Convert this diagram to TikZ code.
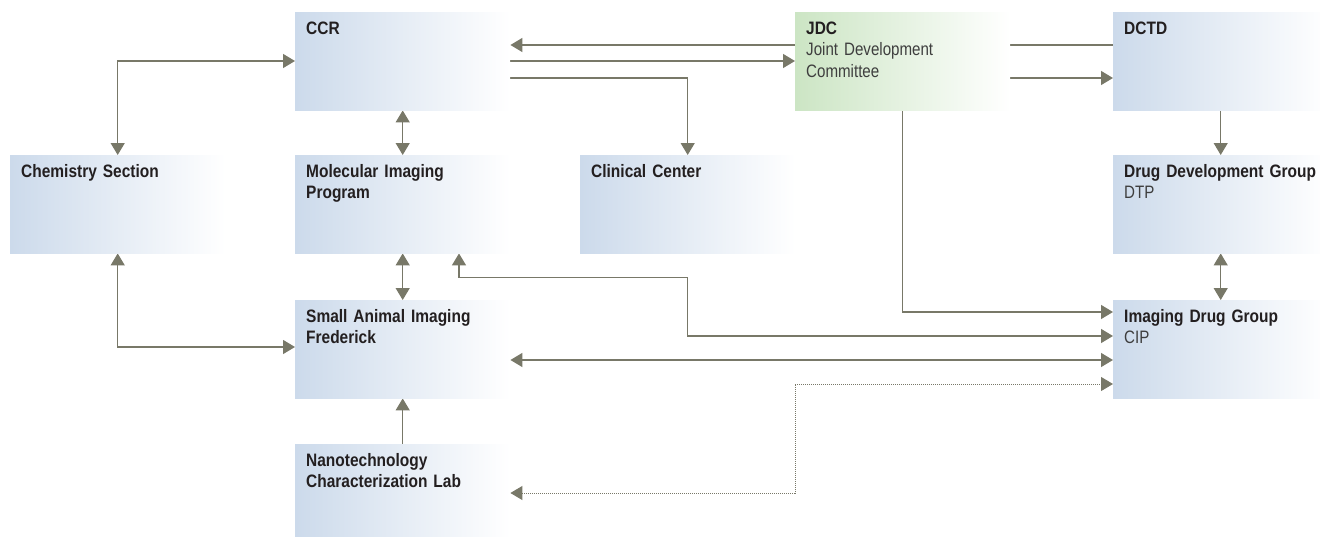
\documentclass[tikz,border=0pt]{standalone}
\usepackage{fontspec}
\setmainfont{Liberation Sans}[FakeStretch=0.86,WordSpace=0.7]
\newfontfamily\subfont{Liberation Sans}[FakeStretch=0.84,WordSpace=0.7]
\usetikzlibrary{arrows.meta,backgrounds}
\definecolor{unitblue}{RGB}{204,218,235}
\definecolor{unitgreen}{RGB}{204,229,196}
\definecolor{linkgray}{RGB}{120,120,104}
\definecolor{titlegray}{RGB}{35,31,32}
\definecolor{subgray}{RGB}{62,62,62}
\newcommand*{\Title}[1]{{\bfseries\color{titlegray}#1}}
\newcommand*{\Sub}[1]{{\subfont\color{subgray}#1}}

\tikzset{
  unit/.style={rectangle, anchor=north west, left color=unitblue, right color=white,
    minimum width=215pt, text width=193pt, inner xsep=11pt, inner ysep=9pt,
    text height=13pt, text depth=67pt, align=left,
    font=\fontsize{18}{21.5}\selectfont},
  jdcunit/.style={unit, left color=unitgreen},
  link/.style={draw=linkgray, line width=1.2pt},
  dotlink/.style={link, line width=1pt, densely dotted}
}

\begin{document}
\begin{tikzpicture}[x=1pt, y=-1pt, >={Triangle[length=12pt,width=14pt]}]
  \useasboundingbox (0,0) rectangle (1320,536);

  % units
  \node[unit]    (ccr)  at (295,12)   {\Title{CCR}};
  \node[jdcunit] (jdc)  at (795,12)   {\Title{JDC}\\\Sub{Joint Development\\Committee}};
  \node[unit]    (dctd) at (1113,12)  {\Title{DCTD}};
  \node[unit]    (chem) at (10,155)   {\Title{Chemistry Section}};
  \node[unit]    (mip)  at (295,155)  {\Title{Molecular Imaging\\Program}};
  \node[unit]    (clin) at (580,155)  {\Title{Clinical Center}};
  \node[unit]    (ddg)  at (1113,155) {\Title{Drug Development Group}\\\Sub{DTP}};
  \node[unit]    (sai)  at (295,300)  {\Title{Small Animal Imaging\\Frederick}};
  \node[unit]    (idg)  at (1113,300) {\Title{Imaging Drug Group}\\\Sub{CIP}};
  \node[unit]    (nano) at (295,444)  {\Title{Nanotechnology\\Characterization Lab}};

  \coordinate (dotin) at ([yshift=-84pt]idg.north west);

  % links
  \begin{scope}[on background layer]
    \draw[link,->] ([yshift=-33pt]dctd.north west) -- ([yshift=-33pt]ccr.north east);
    \draw[link,->] ([yshift=-49pt]ccr.north east) -- ([yshift=-49pt]jdc.north west);
    \draw[link,->] ([yshift=-66pt]jdc.north east) -- ([yshift=-66pt]dctd.north west);
    \draw[link,->] ([yshift=-66pt]ccr.north east) -| (clin.north);
    \draw[link,<->] ([yshift=-49pt]ccr.north west) -| (chem.north);
    \draw[link,<->] (ccr.south) -- (mip.north);
    \draw[link,<->] (mip.south) -- (sai.north);
    \draw[link,->] (nano.north) -- (sai.south);
    \draw[link,<->] (chem.south) |- ([yshift=-47pt]sai.north west);
    \draw[link,->] (dctd.south) -- (ddg.north);
    \draw[link,<->] (ddg.south) -- (idg.north);
    \draw[link,->] (jdc.south) |- ([yshift=-12pt]idg.north west);
    \draw[link,<->] ([xshift=164pt]mip.south west) |- ([yshift=-24pt]clin.south)
      |- ([yshift=-36pt]idg.north west);
    \draw[link,<->] ([yshift=-60pt]sai.north east) -- ([yshift=-60pt]idg.north west);
    \draw[dotlink,<->] ([yshift=-49pt]nano.north east) -| (jdc.west |- dotin) -- (dotin);
  \end{scope}
\end{tikzpicture}
\end{document}
